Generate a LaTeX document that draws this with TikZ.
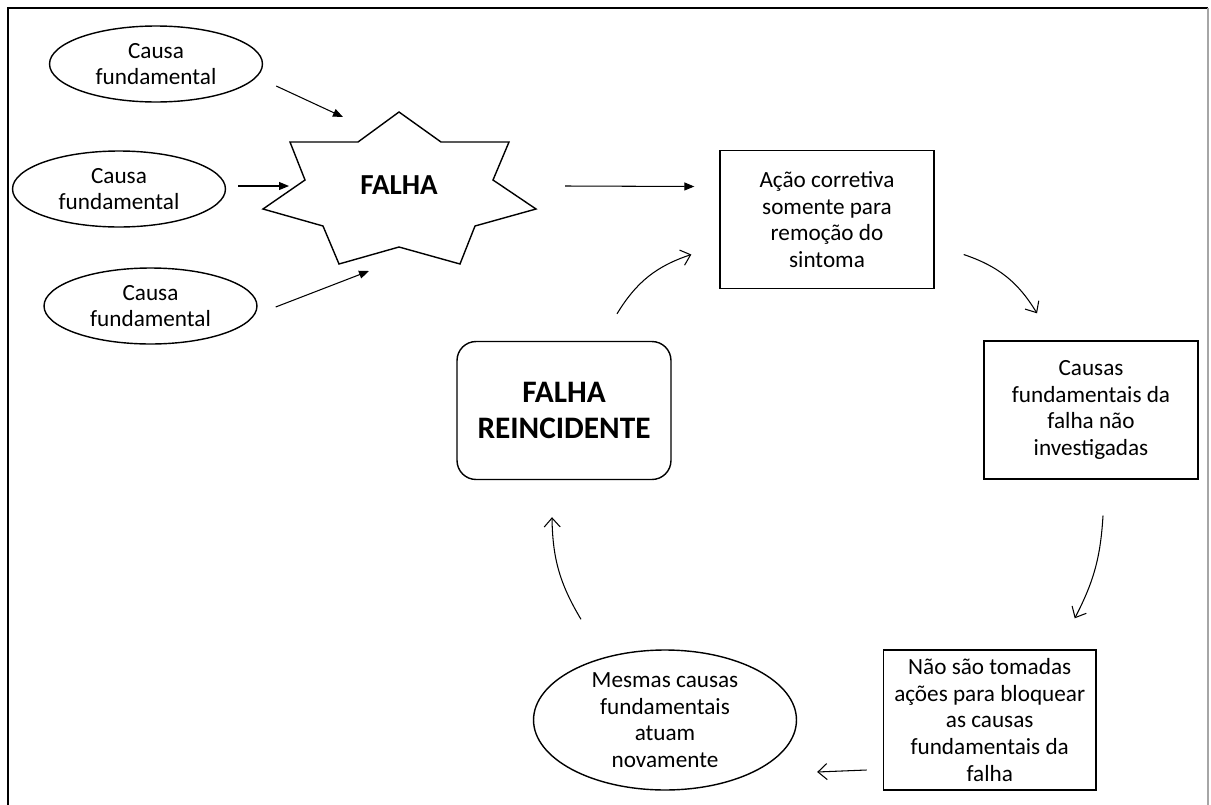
\documentclass[tikz,border=0pt]{standalone}
\usepackage{fontspec}
\setmainfont{Carlito}
\usetikzlibrary{arrows.meta, shapes.geometric, calc}

\tikzset{
  causa/.style={draw, ellipse, line width=0.8pt, inner sep=0pt, minimum width=4.26cm, minimum height=1.52cm, align=center, font=\fontsize{13.2}{15.1}\selectfont},
  caixa/.style={draw, rectangle, line width=0.8pt, inner sep=0pt, minimum width=4.28cm, minimum height=2.76cm, align=center, font=\fontsize{13.2}{15.1}\selectfont},
  seta/.style={-{Triangle[length=2mm,width=1.6mm]}, line width=0.6pt},
  volta/.style={-{Straight Barb[length=1.8mm,width=3.2mm]}, line width=0.6pt},
}

\begin{document}
\begin{tikzpicture}[x=0.02cm, y=-0.02cm]
  \useasboundingbox (0,0) rectangle (1211,805);
  % moldura
  \draw[line width=1.1pt] (8,805) -- (8,8) -- (1208,8);
  \draw[line width=1pt, black!35] (1208,8) -- (1208,805);

  % causas fundamentais
  \node[causa] (c1) at (156,64) {Causa\\fundamental};
  \node[causa] (c2) at (119,189) {Causa\\fundamental};
  \node[causa] (c3) at (150.5,306) {Causa\\fundamental};

  % estrela da falha
  \draw[line width=0.8pt] (399,112) -- (441,142) -- (509,142) -- (493,180) -- (536,209) -- (475,226) -- (460,264) -- (399,247) -- (339,264) -- (323,226) -- (263,209) -- (305,180) -- (290,142) -- (358,142) -- cycle;
  \node[font=\fontsize{16.5}{19}\selectfont\bfseries] (falha) at (399,185) {FALHA};

  % ciclo
  \node[caixa] (acao) at (827,219.5) {A\c{c}\~ao corretiva\\somente para\\remo\c{c}\~ao do\\sintoma};
  \node[caixa] (causas) at (1091,410) {Causas\\fundamentais da\\falha n\~ao\\investigadas};
  \node[caixa, minimum width=4.26cm, minimum height=2.8cm] (nao) at (989.7,720) {N\~ao s\~ao tomadas\\a\c{c}\~oes para bloquear\\as causas\\fundamentais da\\falha};
  \node[causa, minimum width=5.26cm, minimum height=2.8cm, inner sep=-1pt] (mesmas) at (665,720) {Mesmas causas\\fundamentais\\atuam\\novamente};
  \node[caixa, rounded corners=0.38cm, font=\fontsize{17.8}{20.2}\selectfont\bfseries] (reinc) at (564,410.5) {FALHA\\REINCIDENTE};

  % setas
  \draw[seta] ($(c1.east)+(13,22)$) -- ($(falha)+(-56,-68)$);
  \draw[seta] ($(c2.east)+(12,-3)$) -- ($(falha)+(-110,1)$);
  \draw[seta] ($(c3.east)+(18,1)$) -- ($(falha)+(-30,86)$);
  \draw[seta] ($(falha)+(166,1)$) -- ($(acao.west)+(-25,-33)$);

  \draw[volta] ($(acao.east)+(29,35)$) to[bend left=20] ($(causas.north)+(-54,-27)$);
  \draw[volta] ($(causas.south)+(12,36)$) to[bend left=12] ($(nao.north)+(85,-31)$);
  \draw[volta] ($(nao.west)+(-16,50)$) -- ($(mesmas.east)+(20,52)$);
  \draw[volta] ($(mesmas.north)+(-84,-30)$) to[bend left=15] ($(reinc.south)+(-12,37)$);
  \draw[volta] ($(reinc.north)+(53,-27)$) to[bend left=20] ($(acao.west)+(-28,35)$);
\end{tikzpicture}
\end{document}
